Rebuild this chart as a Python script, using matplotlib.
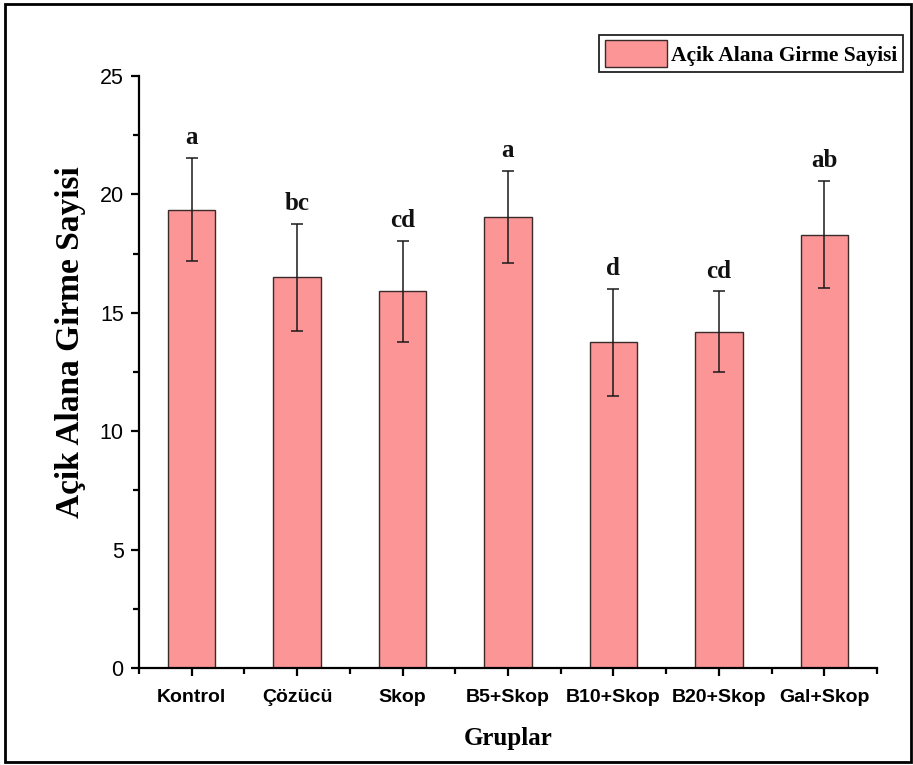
import numpy as np
import matplotlib
matplotlib.use('Agg')
import matplotlib.pyplot as plt
from matplotlib.ticker import FixedLocator, MultipleLocator
from matplotlib.patches import Rectangle

# gruplar ve ortalama +/- hata degerleri
gruplar = ['Kontrol', 'Çözücü', 'Skop', 'B5+Skop', 'B10+Skop', 'B20+Skop', 'Gal+Skop']
ortalama = [19.35, 16.5, 15.9, 19.05, 13.75, 14.2, 18.3]
hata = [2.17, 2.25, 2.15, 1.95, 2.25, 1.7, 2.25]
harfler = ['a', 'bc', 'cd', 'a', 'd', 'cd', 'ab']

serif = 'Liberation Serif'
sans = 'Liberation Sans'

fig = plt.figure(figsize=(9.13, 7.65), dpi=100)
ax = fig.add_axes([0.1522, 0.1268, 0.8084, 0.7739])

x = np.arange(1, len(gruplar) + 1)
ax.bar(x, ortalama, width=0.45, color='#fc9696', edgecolor='#3a2a2a',
       linewidth=1.0, label='Açik Alana Girme Sayisi', zorder=2)
ax.errorbar(x, ortalama, yerr=hata, fmt='none', ecolor='#1a1a1a',
            elinewidth=1.1, capsize=4, capthick=1.1, zorder=3)

# anlamlilik harfleri
for xi, m, e, h in zip(x, ortalama, hata, harfler):
    ax.annotate(h, xy=(xi, m + e), xytext=(0, 10), textcoords='offset points',
                ha='center', va='baseline', fontsize=18, fontweight='bold',
                family=serif, color='#111111')

ax.set_xlim(0.5, 7.5)
ax.set_ylim(0, 25)
ax.set_xticks(x)
ax.set_xticklabels(gruplar, fontsize=14, fontweight='bold', family=sans)
ax.xaxis.set_minor_locator(FixedLocator(np.arange(0.5, 8, 1)))
ax.yaxis.set_major_locator(MultipleLocator(5))
ax.yaxis.set_minor_locator(MultipleLocator(2.5))
for lab in ax.get_yticklabels():
    lab.set_family(sans)
    lab.set_fontsize(15.5)

ax.spines['top'].set_visible(False)
ax.spines['right'].set_visible(False)
for s in ('left', 'bottom'):
    ax.spines[s].set_linewidth(1.6)
ax.tick_params(which='major', direction='out', length=6, width=1.6, pad=5)
ax.tick_params(which='minor', direction='out', length=4, width=1.6)
ax.tick_params(axis='x', which='major', pad=9)

ax.set_ylabel('Açik Alana Girme Sayisi', fontsize=24, fontweight='bold', family=serif)
ax.yaxis.set_label_coords(-0.072, 0.55)
ax.set_xlabel('Gruplar', fontsize=18, fontweight='bold', family=serif)
ax.xaxis.set_label_coords(0.5, -0.1)

leg = fig.legend(loc='upper right', bbox_to_anchor=(903 / 913, 1 - 35 / 765),
                 prop={'family': serif, 'weight': 'bold', 'size': 15.5},
                 fancybox=False, edgecolor='#222222', framealpha=1,
                 handlelength=2.9, handleheight=1.5, handletextpad=0.2,
                 borderpad=0.25, borderaxespad=0)
leg.get_frame().set_linewidth(1.3)

# dis cerceve
fig.patches.append(Rectangle((5 / 913, 3 / 765), 906 / 913, 758 / 765,
                             transform=fig.transFigure, fill=False,
                             edgecolor='black', linewidth=2))

fig.savefig('out.png', dpi=100)
